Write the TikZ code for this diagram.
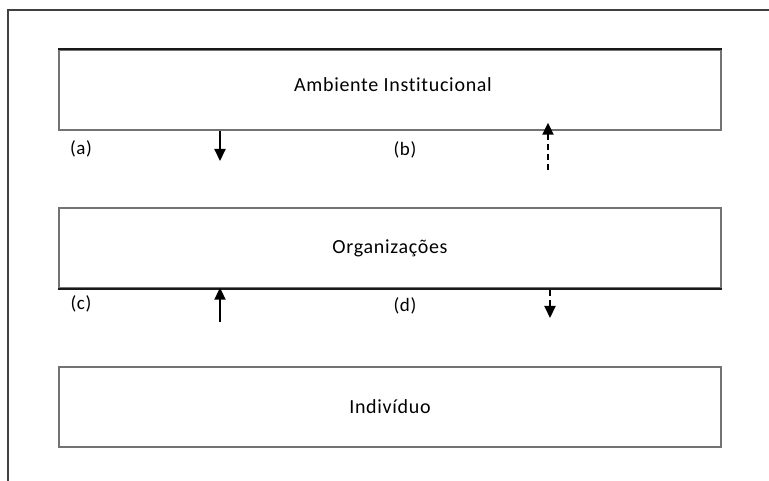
\documentclass[tikz,border=0pt]{standalone}
\usepackage{fontspec}
\setmainfont{Carlito}
\newfontfamily\boxfont[LetterSpace=3.5, Ligatures={NoCommon}]{Carlito}
\usetikzlibrary{arrows.meta, positioning}

\begin{document}
\begin{tikzpicture}[x=1pt, y=-1pt,
  layer/.style={draw=black!55, line width=1.4pt, minimum width=662pt, minimum height=80pt,
                inner sep=0pt, font=\boxfont\fontsize{20}{22}\selectfont},
  tag/.style={font=\boxfont\fontsize{19}{21}\selectfont},
  heavy/.style={draw=black!90, line width=2.2pt},
  solidarr/.style={-{Triangle[length=12pt, width=11pt]}, line width=2pt},
  dasharr/.style={-{Triangle[length=12pt, width=11pt]}, line width=2pt, dash pattern=on 6pt off 4pt},
]
\useasboundingbox (0,0) rectangle (769,481);
% frame
\draw[draw=black!75, line width=1.4pt] (8,481) -- (8,10) -- (769,10);

% layers
\node[layer] (inst) at (390,90) {};
\node[font=\boxfont\fontsize{20}{22}\selectfont] (instlabel) at (393,85) {Ambiente Institucional};
\node[layer] (org) at (390,248) {Organizações};
\node[layer] (ind) at (390,407) {Indivíduo};
\draw[heavy] (inst.north west) -- (inst.north east);
\draw[heavy] (org.south west) -- (org.south east);

% labels
\node[tag] (a) at (81,149) {(a)};
\node[tag] (b) at (405,150) {(b)};
\node[tag] (c) at (81,304) {(c)};
\node[tag] (d) at (405,306) {(d)};

% arrows
\coordinate (aend) at (220,161);
\coordinate (bstart) at (548,170);
\coordinate (cstart) at (220,322);
\coordinate (dend) at (550,318);
\draw[solidarr] (inst.south -| aend) -- (aend);
\draw[dasharr] (bstart) -- ([yshift=8pt]inst.south -| bstart);
\draw[solidarr] (cstart) -- ([yshift=1pt]org.south -| cstart);
\draw[dasharr] ([yshift=-1pt]org.south -| dend) -- (dend);
\end{tikzpicture}
\end{document}
